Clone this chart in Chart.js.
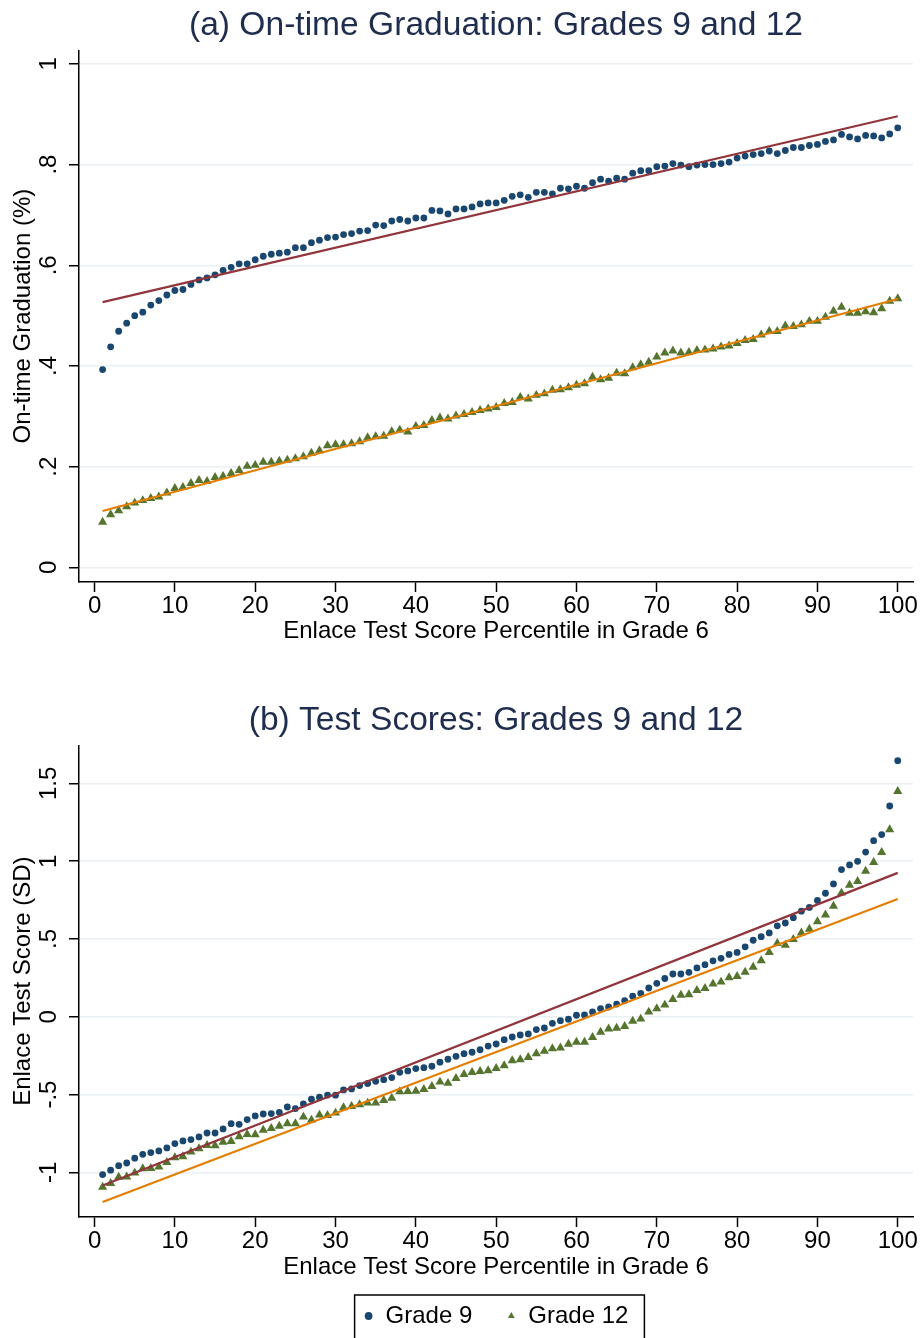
<!DOCTYPE html>
<html>
<head>
<meta charset="utf-8">
<title>On-time Graduation and Test Scores by Grade 6 Percentile</title>
<script src="https://cdn.jsdelivr.net/npm/chart.js@4.4.1/dist/chart.umd.min.js"></script>
<style>
  html, body { margin: 0; padding: 0; background: #fff; }
  canvas { display: block; }
</style>
</head>
<body>
<canvas id="gradChart" width="921" height="659"></canvas>
<canvas id="scoreChart" width="921" height="679"></canvas>
<script>
// Enlace percentile in grade 6 (x for every point)
const percentiles = [
  1, 2, 3, 4, 5, 6, 7, 8, 9, 10, 11, 12, 13, 14, 15, 16, 17, 18, 19, 20,
  21, 22, 23, 24, 25, 26, 27, 28, 29, 30, 31, 32, 33, 34, 35, 36, 37, 38, 39, 40,
  41, 42, 43, 44, 45, 46, 47, 48, 49, 50, 51, 52, 53, 54, 55, 56, 57, 58, 59, 60,
  61, 62, 63, 64, 65, 66, 67, 68, 69, 70, 71, 72, 73, 74, 75, 76, 77, 78, 79, 80,
  81, 82, 83, 84, 85, 86, 87, 88, 89, 90, 91, 92, 93, 94, 95, 96, 97, 98, 99, 100
];

// (a) on-time graduation share
const gradGrade9 = [
  0.393, 0.438, 0.469, 0.485, 0.500, 0.507, 0.521, 0.530, 0.541, 0.550,
  0.552, 0.562, 0.571, 0.575, 0.581, 0.590, 0.596, 0.603, 0.603, 0.611,
  0.618, 0.622, 0.624, 0.626, 0.635, 0.635, 0.645, 0.650, 0.655, 0.656,
  0.661, 0.663, 0.668, 0.669, 0.680, 0.679, 0.688, 0.691, 0.688, 0.694,
  0.694, 0.709, 0.708, 0.702, 0.712, 0.712, 0.716, 0.722, 0.724, 0.724,
  0.729, 0.737, 0.740, 0.735, 0.745, 0.745, 0.742, 0.753, 0.752, 0.757,
  0.753, 0.764, 0.771, 0.767, 0.773, 0.771, 0.783, 0.788, 0.788, 0.796,
  0.797, 0.802, 0.799, 0.796, 0.799, 0.800, 0.800, 0.802, 0.805, 0.813,
  0.817, 0.820, 0.822, 0.827, 0.822, 0.828, 0.834, 0.834, 0.838, 0.840,
  0.846, 0.849, 0.860, 0.855, 0.851, 0.858, 0.857, 0.853, 0.861, 0.873
];
const gradGrade12 = [
  0.090, 0.105, 0.113, 0.121, 0.128, 0.133, 0.137, 0.140, 0.148, 0.157,
  0.159, 0.167, 0.173, 0.171, 0.179, 0.181, 0.187, 0.193, 0.201, 0.203,
  0.209, 0.209, 0.211, 0.213, 0.216, 0.220, 0.227, 0.232, 0.242, 0.244,
  0.244, 0.246, 0.250, 0.258, 0.260, 0.261, 0.270, 0.273, 0.269, 0.280,
  0.282, 0.292, 0.297, 0.295, 0.301, 0.304, 0.308, 0.312, 0.315, 0.318,
  0.326, 0.328, 0.338, 0.335, 0.342, 0.345, 0.352, 0.353, 0.357, 0.362,
  0.365, 0.378, 0.373, 0.376, 0.386, 0.385, 0.397, 0.403, 0.408, 0.418,
  0.426, 0.430, 0.426, 0.427, 0.431, 0.432, 0.434, 0.438, 0.440, 0.445,
  0.451, 0.453, 0.462, 0.469, 0.469, 0.480, 0.479, 0.482, 0.489, 0.489,
  0.497, 0.509, 0.517, 0.505, 0.505, 0.508, 0.506, 0.514, 0.529, 0.534
];

// (b) Enlace test score in SD
const scoreGrade9 = [
  -1.014, -0.986, -0.957, -0.940, -0.909, -0.884, -0.873, -0.862, -0.843, -0.815,
  -0.798, -0.789, -0.772, -0.747, -0.747, -0.721, -0.687, -0.691, -0.661, -0.637,
  -0.625, -0.622, -0.614, -0.580, -0.590, -0.560, -0.530, -0.517, -0.503, -0.504,
  -0.470, -0.464, -0.442, -0.429, -0.415, -0.404, -0.391, -0.357, -0.348, -0.333,
  -0.327, -0.318, -0.292, -0.273, -0.254, -0.237, -0.228, -0.212, -0.188, -0.175,
  -0.147, -0.130, -0.117, -0.110, -0.082, -0.072, -0.042, -0.025, -0.016, 0.010,
  0.012, 0.031, 0.053, 0.063, 0.082, 0.104, 0.132, 0.151, 0.185, 0.215,
  0.246, 0.275, 0.275, 0.286, 0.314, 0.335, 0.360, 0.376, 0.401, 0.414,
  0.450, 0.492, 0.515, 0.539, 0.585, 0.603, 0.637, 0.679, 0.703, 0.748,
  0.794, 0.854, 0.946, 0.976, 0.999, 1.059, 1.132, 1.171, 1.355, 1.646
];
const scoreGrade12 = [
  -1.094, -1.070, -1.031, -1.029, -1.004, -0.976, -0.974, -0.965, -0.935, -0.905,
  -0.898, -0.869, -0.847, -0.826, -0.828, -0.805, -0.800, -0.770, -0.755, -0.757,
  -0.728, -0.717, -0.702, -0.687, -0.687, -0.644, -0.663, -0.631, -0.633, -0.618,
  -0.584, -0.575, -0.564, -0.554, -0.554, -0.537, -0.522, -0.481, -0.479, -0.477,
  -0.466, -0.447, -0.419, -0.427, -0.395, -0.370, -0.357, -0.350, -0.346, -0.331,
  -0.314, -0.281, -0.275, -0.260, -0.237, -0.220, -0.204, -0.200, -0.175, -0.162,
  -0.162, -0.132, -0.098, -0.078, -0.072, -0.061, -0.027, -0.014, 0.031, 0.053,
  0.076, 0.112, 0.140, 0.143, 0.170, 0.183, 0.211, 0.224, 0.252, 0.260,
  0.288, 0.320, 0.361, 0.414, 0.472, 0.461, 0.498, 0.540, 0.564, 0.612,
  0.656, 0.712, 0.796, 0.847, 0.871, 0.937, 0.993, 1.057, 1.203, 1.449
];

// linear fit endpoints (at percentile 1 and 100)
const fitX = [1, 100];
const gradFit9 = [0.527, 0.896];
const gradFit12 = [0.112, 0.533];
const scoreFit9 = [-1.085, 0.925];
const scoreFit12 = [-1.19, 0.757];

// tick labels
const xTicks = [0, 10, 20, 30, 40, 50, 60, 70, 80, 90, 100];
const gradTicks = [0, 0.2, 0.4, 0.6, 0.8, 1];
const scoreTicks = [-1, -0.5, 0, 0.5, 1, 1.5];

const FONT = '"Liberation Sans", Arial, sans-serif';
const NAVY = '#1a476f';
const GREEN = '#55752f';
const MAROON = '#90353b';
const ORANGE = '#e37e00';
const GRID = '#eaf0f3';

Chart.defaults.font.family = FONT;
Chart.defaults.color = '#000';

const pts = (ys) => ys.map((y, i) => ({ x: percentiles[i], y: y }));
const fitPts = (ys) => ys.map((y, i) => ({ x: fitX[i], y: y }));

// stata-style number labels: .5 instead of 0.5
const stataNum = (v) => {
  let s = String(Math.round(v * 100) / 100);
  return s.replace(/^0\./, '.').replace(/^-0\./, '-.');
};

function datasets(g9, g12, f9, f12) {
  return [
    { label: 'fit9', type: 'line', data: fitPts(f9), borderColor: MAROON, borderWidth: 2.2, pointRadius: 0 },
    { label: 'fit12', type: 'line', data: fitPts(f12), borderColor: ORANGE, borderWidth: 2.2, pointRadius: 0 },
    { label: 'Grade 9', data: pts(g9), pointStyle: 'circle', pointRadius: 3.4,
      backgroundColor: NAVY, borderColor: NAVY, borderWidth: 0 },
    { label: 'Grade 12', data: pts(g12), pointStyle: 'triangle', pointRadius: 5.3,
      backgroundColor: GREEN, borderColor: GREEN, borderWidth: 0 }
  ];
}

function makeOptions(cfg) {
  return {
    responsive: false,
    animation: false,
    devicePixelRatio: 1,
    layout: { padding: { left: 0, right: 8, top: 0, bottom: 0 } },
    plugins: {
      title: {
        display: true,
        text: cfg.title,
        fullSize: false,
        color: '#1f2d4e',
        font: { size: 33.6, weight: 'normal' },
        padding: cfg.titlePad
      },
      legend: cfg.legend,
      tooltip: { enabled: false }
    },
    scales: {
      x: {
        type: 'linear',
        min: -1.94,
        max: 101.9,
        afterBuildTicks: (s) => { s.ticks = xTicks.map(v => ({ value: v })); },
        afterFit: (s) => { s.height = cfg.xHeight; },
        border: { color: '#000', width: 1.5 },
        grid: { drawOnChartArea: false, tickLength: 10, tickColor: '#000', tickWidth: 1.5 },
        ticks: { font: { size: 24 }, padding: 0, maxRotation: 0 },
        title: {
          display: true,
          text: 'Enlace Test Score Percentile in Grade 6',
          font: { size: 24 },
          padding: { top: 0, bottom: cfg.xTitlePad }
        }
      },
      y: {
        min: cfg.yMin,
        max: cfg.yMax,
        afterBuildTicks: (s) => { s.ticks = cfg.yTicks.map(v => ({ value: v })); },
        afterFit: (s) => { s.width = 79; },
        border: { color: '#000', width: 1.5 },
        grid: { color: GRID, lineWidth: 1.5, tickLength: 10, tickColor: '#000', tickWidth: 1.5 },
        ticks: {
          font: { size: 24 },
          minRotation: 90,
          maxRotation: 90,
          crossAlign: 'center',
          padding: cfg.yTickPad,
          callback: (v) => stataNum(v)
        },
        title: {
          display: true,
          text: cfg.yTitle,
          font: { size: 24 },
          padding: { top: 9, bottom: 0 }
        }
      }
    }
  };
}

// box drawn around the legend items, like the stata legend frame
const legendFrame = {
  id: 'legendFrame',
  afterDraw(chart) {
    const lg = chart.legend;
    if (!lg || !lg.options.display || !lg.legendHitBoxes.length) return;
    const hb = lg.legendHitBoxes;
    const first = hb[0], last = hb[hb.length - 1];
    const left = first.left - 9;
    const right = last.left + last.width + 16;
    const top = first.top - 9;
    const ctx = chart.ctx;
    ctx.save();
    ctx.strokeStyle = '#000';
    ctx.lineWidth = 1.5;
    ctx.strokeRect(left, top, right - left, 60);
    ctx.restore();
  }
};

new Chart(document.getElementById('gradChart'), {
  type: 'scatter',
  data: { datasets: datasets(gradGrade9, gradGrade12, gradFit9, gradFit12) },
  options: makeOptions({
    title: '(a) On-time Graduation: Grades 9 and 12',
    titlePad: { top: 6, bottom: 4 },
    legend: { display: false },
    xHeight: 77,
    xTitlePad: 13.6,
    yMin: -0.029,
    yMax: 1.027,
    yTicks: gradTicks,
    yTickPad: 10,
    yTitle: 'On-time Graduation (%)'
  })
});

new Chart(document.getElementById('scoreChart'), {
  type: 'scatter',
  data: { datasets: datasets(scoreGrade9, scoreGrade12, scoreFit9, scoreFit12) },
  options: makeOptions({
    title: '(b) Test Scores: Grades 9 and 12',
    titlePad: { top: 42, bottom: 4 },
    legend: {
      display: true,
      position: 'bottom',
      fullSize: false,
      labels: {
        usePointStyle: true,
        boxWidth: 10,
        boxHeight: 5.5,
        padding: 34,
        font: { size: 24 },
        color: '#000',
        filter: (item) => item.text.indexOf('Grade') === 0
      }
    },
    xHeight: 53,
    xTitlePad: -11.4,
    yMin: -1.287,
    yMax: 1.745,
    yTicks: scoreTicks,
    yTickPad: 3,
    yTitle: 'Enlace Test Score (SD)'
  }),
  plugins: [legendFrame]
});
</script>
</body>
</html>
